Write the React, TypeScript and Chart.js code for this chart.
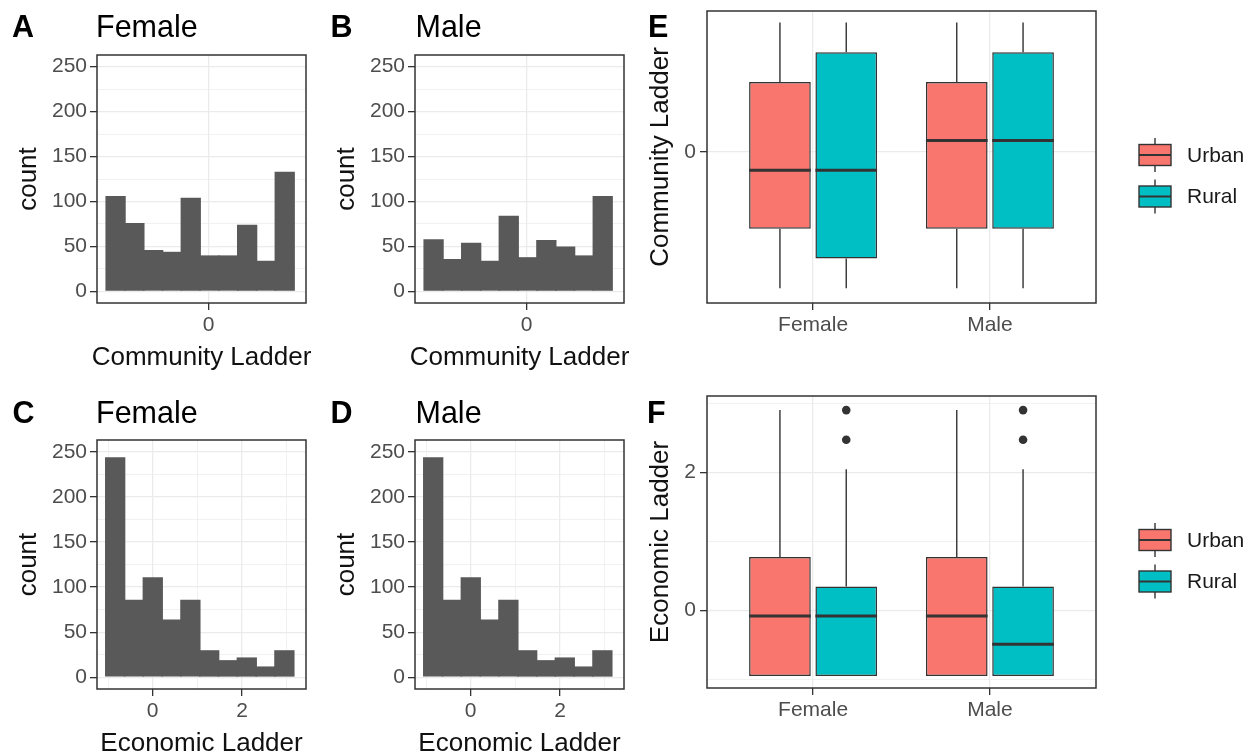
import React, { useEffect, useRef } from 'react';
import { Chart, registerables } from 'chart.js';

Chart.register(...registerables);

const FONT = "'Liberation Sans', Arial, Helvetica, sans-serif";
Chart.defaults.font.family = FONT;

// ---- Histogram data (bin centres on the standardised ladder scales) ----
const communityBins = [-1.767, -1.41, -1.053, -0.696, -0.339, 0.018, 0.375, 0.732, 1.089, 1.446];
const economicBins = [-0.84, -0.419, 0.002, 0.423, 0.844, 1.265, 1.686, 2.107, 2.528, 2.949];

const femaleCommunityCounts = [106, 76, 46, 44, 104, 40, 40, 74, 34, 133];
const maleCommunityCounts = [58, 36, 54, 34, 84, 38, 57, 50, 40, 106];
const femaleEconomicCounts = [244, 86, 111, 64, 86, 30, 19, 22, 12, 30];
const maleEconomicCounts = [244, 86, 111, 64, 86, 30, 19, 22, 12, 30];

const countTicks = [0, 25, 50, 75, 100, 125, 150, 175, 200, 225, 250];
const communityTicks = [0];
const economicTicks = [-1, 0, 1, 2, 3];

// ---- Boxplot data: [min, q1, median, q3, max] per gender ----
const genders = ['Female', 'Male'];
const areas = ['Urban', 'Rural'];
const areaColors = ['#F8766D', '#00BFC4'];

const communityUrban = [
  [-1.65, -0.93, -0.22, 0.85, 1.57],
  [-1.65, -0.93, 0.14, 0.85, 1.57],
];
const communityRural = [
  [-1.65, -1.29, -0.22, 1.21, 1.57],
  [-1.65, -0.93, 0.14, 1.21, 1.57],
];
const communityUrbanOutliers: number[][] = [[], []];
const communityRuralOutliers: number[][] = [[], []];

const economicUrban = [
  [-0.955, -0.955, -0.085, 0.775, 2.91],
  [-0.955, -0.955, -0.085, 0.775, 2.91],
];
const economicRural = [
  [-0.955, -0.955, -0.085, 0.345, 2.05],
  [-0.955, -0.955, -0.495, 0.345, 2.05],
];
const economicUrbanOutliers: number[][] = [[], []];
const economicRuralOutliers = [
  [2.48, 2.91],
  [2.48, 2.91],
];

const communityBoxTicks = [0];
const economicBoxTicks = [-1, 0, 1, 2, 3];

// ---- Styling ----
const TICK_TEXT = '#4d4d4d';
const GRID = '#ebebeb';
const INK = '#333333';
const TICK_SIZE = 21;
const TITLE_SIZE = 26;
const HEAD_SIZE = 30.5;
const DODGE = [-0.1875, 0.1875];

const allMajor = () => true;
const every50 = (v: number) => v % 50 === 0;
const every2 = (v: number) => v % 2 === 0;

function gridFor(isMajor: (v: number) => boolean) {
  return {
    offset: false,
    color: GRID,
    lineWidth: (c: any) => (c.tick && isMajor(c.tick.value) ? 1.3 : 0.7),
    tickColor: (c: any) => (c.tick && isMajor(c.tick.value) ? INK : 'rgba(0,0,0,0)'),
    tickLength: 7,
    tickWidth: 1.3,
    drawTicks: true,
  };
}

function fixTicks(values: number[]) {
  return (scale: any) => {
    scale.ticks = values.map((v) => ({ value: v }));
  };
}

function pinWidth(w: number) {
  return (scale: any) => {
    scale.width = w;
    scale.paddingTop = scale.paddingBottom = scale.paddingLeft = scale.paddingRight = 0;
  };
}

function pinHeight(h: number) {
  return (scale: any) => {
    scale.height = h;
    scale.paddingTop = scale.paddingBottom = scale.paddingLeft = scale.paddingRight = 0;
  };
}

const panelBorder = {
  id: 'panelBorder',
  afterDraw(chart: any) {
    const { ctx, chartArea: a } = chart;
    ctx.save();
    ctx.strokeStyle = INK;
    ctx.lineWidth = 1.5;
    ctx.strokeRect(a.left, a.top, a.right - a.left, a.bottom - a.top);
    ctx.restore();
  },
};

function xTitle(text: string) {
  return {
    id: 'xTitle',
    afterDraw(chart: any) {
      const { ctx, chartArea: a } = chart;
      ctx.save();
      ctx.font = `${TITLE_SIZE}px ${FONT}`;
      ctx.fillStyle = '#111';
      ctx.textAlign = 'center';
      ctx.textBaseline = 'alphabetic';
      ctx.fillText(text, (a.left + a.right) / 2, a.bottom + 62.3);
      ctx.restore();
    },
  };
}

// Whiskers behind the boxes, medians on top of them
const boxParts = {
  id: 'boxParts',
  beforeDatasetsDraw(chart: any) {
    const { ctx } = chart;
    const y = chart.scales.y;
    chart.data.datasets.forEach((ds: any, i: number) => {
      if (ds.type !== 'bar') return;
      const meta = chart.getDatasetMeta(i);
      meta.data.forEach((el: any, j: number) => {
        const s = ds.data[j].stats;
        ctx.save();
        ctx.strokeStyle = INK;
        ctx.lineWidth = 1.4;
        ctx.beginPath();
        ctx.moveTo(el.x, y.getPixelForValue(s[3]));
        ctx.lineTo(el.x, y.getPixelForValue(s[4]));
        ctx.moveTo(el.x, y.getPixelForValue(s[1]));
        ctx.lineTo(el.x, y.getPixelForValue(s[0]));
        ctx.stroke();
        ctx.restore();
      });
    });
  },
  afterDatasetsDraw(chart: any) {
    const { ctx } = chart;
    const y = chart.scales.y;
    chart.data.datasets.forEach((ds: any, i: number) => {
      if (ds.type !== 'bar') return;
      const meta = chart.getDatasetMeta(i);
      meta.data.forEach((el: any, j: number) => {
        const s = ds.data[j].stats;
        const py = y.getPixelForValue(s[2]);
        ctx.save();
        ctx.strokeStyle = INK;
        ctx.lineWidth = 3;
        ctx.beginPath();
        ctx.moveTo(el.x - el.width / 2, py);
        ctx.lineTo(el.x + el.width / 2, py);
        ctx.stroke();
        ctx.restore();
      });
    });
  },
};

const boxLegend = {
  id: 'boxLegend',
  afterDraw(chart: any) {
    const { ctx, chartArea: a } = chart;
    const cy = (a.top + a.bottom) / 2;
    const rows = [cy - 2, cy + 39.5];
    const kx = a.right + 59;
    areas.forEach((name, i) => {
      const ry = rows[i];
      ctx.save();
      ctx.strokeStyle = INK;
      ctx.lineWidth = 1.4;
      ctx.beginPath();
      ctx.moveTo(kx, ry - 17);
      ctx.lineTo(kx, ry + 17);
      ctx.stroke();
      ctx.fillStyle = areaColors[i];
      ctx.fillRect(kx - 16, ry - 10.5, 32, 21);
      ctx.strokeRect(kx - 16, ry - 10.5, 32, 21);
      ctx.lineWidth = 2;
      ctx.beginPath();
      ctx.moveTo(kx - 16, ry);
      ctx.lineTo(kx + 16, ry);
      ctx.stroke();
      ctx.fillStyle = '#1a1a1a';
      ctx.font = `${TICK_SIZE}px ${FONT}`;
      ctx.textAlign = 'left';
      ctx.textBaseline = 'middle';
      ctx.fillText(name, a.right + 91, ry + 1);
      ctx.restore();
    });
  },
};

interface Frame {
  canvasLeft: number;
  canvasTop: number;
  canvasWidth: number;
  canvasHeight: number;
  plotLeft: number;
  plotTop: number;
  plotWidth: number;
  plotHeight: number;
}

interface HistSpec extends Frame {
  bins: number[];
  counts: number[];
  xRange: [number, number];
  xTicks: number[];
  xMajor: (v: number) => boolean;
  xLabel: string;
}

function histogramConfig(p: HistSpec): any {
  return {
    type: 'bar',
    data: {
      datasets: [
        {
          data: p.bins.map((b, i) => ({ x: b, y: p.counts[i] })),
          backgroundColor: '#595959',
          borderWidth: 0,
          grouped: false,
          // adjacent bins overlap slightly so no seams show between them
          barPercentage: 1.08,
          categoryPercentage: 1,
        },
      ],
    },
    options: {
      responsive: false,
      animation: false,
      devicePixelRatio: 1,
      layout: {
        padding: {
          left: 0,
          top: p.plotTop,
          right: p.canvasWidth - p.plotLeft - p.plotWidth,
          bottom: 0,
        },
      },
      plugins: { legend: { display: false }, tooltip: { enabled: false } },
      scales: {
        x: {
          type: 'linear',
          bounds: 'data',
          offset: false,
          min: p.xRange[0],
          max: p.xRange[1],
          afterBuildTicks: fixTicks(p.xTicks),
          afterFit: pinHeight(p.canvasHeight - p.plotTop - p.plotHeight),
          border: { display: false },
          grid: gridFor(p.xMajor),
          ticks: {
            autoSkip: false,
            maxRotation: 0,
            padding: 3,
            color: TICK_TEXT,
            font: { size: TICK_SIZE },
            callback: (v: number) => (p.xMajor(v) ? String(v) : ''),
          },
        },
        y: {
          type: 'linear',
          bounds: 'data',
          min: -13,
          max: 263,
          afterBuildTicks: fixTicks(countTicks),
          afterFit: pinWidth(p.plotLeft),
          border: { display: false },
          grid: gridFor(every50),
          ticks: {
            autoSkip: false,
            padding: 3,
            color: TICK_TEXT,
            font: { size: TICK_SIZE },
            callback: (v: number) => (every50(v) ? String(v) : ''),
          },
          title: {
            display: true,
            text: 'count',
            color: '#111',
            font: { size: TITLE_SIZE, lineHeight: 1 },
            padding: { top: 16, bottom: 0 },
          },
        },
      },
    },
    plugins: [panelBorder, xTitle(p.xLabel)],
  };
}

interface BoxSpec extends Frame {
  urban: number[][];
  rural: number[][];
  urbanOutliers: number[][];
  ruralOutliers: number[][];
  yRange: [number, number];
  yTicks: number[];
  yMajor: (v: number) => boolean;
  yLabel: string;
}

function boxConfig(p: BoxSpec): any {
  const groups = [p.urban, p.rural];
  const outlierGroups = [p.urbanOutliers, p.ruralOutliers];
  const boxes = groups.map((stats, a) => ({
    type: 'bar',
    label: areas[a],
    data: stats.map((s, g) => ({ x: g + 1 + DODGE[a], y: [s[1], s[3]], stats: s })),
    backgroundColor: areaColors[a],
    borderColor: INK,
    borderWidth: 1.5,
    borderSkipped: false,
    grouped: false,
    barPercentage: 0.93,
    categoryPercentage: 1,
    order: 2,
  }));
  const points = outlierGroups.map((sets, a) => ({
    type: 'scatter',
    label: areas[a] + ' outliers',
    data: sets.flatMap((vals, g) => vals.map((v) => ({ x: g + 1 + DODGE[a], y: v }))),
    backgroundColor: INK,
    borderWidth: 0,
    pointRadius: 4.3,
    showLine: false,
    order: 1,
  }));
  return {
    type: 'bar',
    data: { datasets: [...boxes, ...points] },
    options: {
      responsive: false,
      animation: false,
      devicePixelRatio: 1,
      layout: {
        padding: {
          left: 0,
          top: p.plotTop,
          right: p.canvasWidth - p.plotLeft - p.plotWidth,
          bottom: 0,
        },
      },
      plugins: { legend: { display: false }, tooltip: { enabled: false } },
      scales: {
        x: {
          type: 'linear',
          bounds: 'data',
          offset: false,
          min: 0.4,
          max: genders.length + 0.6,
          afterBuildTicks: fixTicks(genders.map((_, i) => i + 1)),
          afterFit: pinHeight(p.canvasHeight - p.plotTop - p.plotHeight),
          border: { display: false },
          grid: gridFor(allMajor),
          ticks: {
            autoSkip: false,
            maxRotation: 0,
            padding: 3,
            color: TICK_TEXT,
            font: { size: TICK_SIZE },
            callback: (v: number) => genders[Math.round(v) - 1] ?? '',
          },
        },
        y: {
          type: 'linear',
          bounds: 'data',
          min: p.yRange[0],
          max: p.yRange[1],
          afterBuildTicks: fixTicks(p.yTicks),
          afterFit: pinWidth(p.plotLeft),
          border: { display: false },
          grid: gridFor(p.yMajor),
          ticks: {
            autoSkip: false,
            padding: 4,
            color: TICK_TEXT,
            font: { size: TICK_SIZE },
            callback: (v: number) => (p.yMajor(v) ? String(v) : ''),
          },
          title: {
            display: true,
            text: p.yLabel,
            color: '#111',
            font: { size: TITLE_SIZE, lineHeight: 1 },
            padding: { top: 18, bottom: 0 },
          },
        },
      },
    },
    plugins: [boxParts, panelBorder, boxLegend],
  };
}

const histFrameTop = { canvasTop: 40, canvasHeight: 330, plotTop: 15, plotHeight: 248 };
const histFrameBottom = { canvasTop: 425, canvasHeight: 330, plotTop: 15, plotHeight: 249 };

const histA: HistSpec = {
  ...histFrameTop,
  canvasLeft: 0, canvasWidth: 320, plotLeft: 97, plotWidth: 209,
  bins: communityBins, counts: femaleCommunityCounts, xRange: [-2.12, 1.85],
  xTicks: communityTicks, xMajor: allMajor, xLabel: 'Community Ladder',
};
const histB: HistSpec = {
  ...histFrameTop,
  canvasLeft: 318, canvasWidth: 312, plotLeft: 97, plotWidth: 209,
  bins: communityBins, counts: maleCommunityCounts, xRange: [-2.12, 1.85],
  xTicks: communityTicks, xMajor: allMajor, xLabel: 'Community Ladder',
};
const histC: HistSpec = {
  ...histFrameBottom,
  canvasLeft: 0, canvasWidth: 320, plotLeft: 97, plotWidth: 209,
  bins: economicBins, counts: femaleEconomicCounts, xRange: [-1.247, 3.433],
  xTicks: economicTicks, xMajor: every2, xLabel: 'Economic Ladder',
};
const histD: HistSpec = {
  ...histFrameBottom,
  canvasLeft: 318, canvasWidth: 312, plotLeft: 97, plotWidth: 209,
  bins: economicBins, counts: maleEconomicCounts, xRange: [-1.247, 3.433],
  xTicks: economicTicks, xMajor: every2, xLabel: 'Economic Ladder',
};

const boxE: BoxSpec = {
  canvasLeft: 630, canvasTop: 0, canvasWidth: 622, canvasHeight: 380,
  plotLeft: 77, plotTop: 11, plotWidth: 389, plotHeight: 292,
  urban: communityUrban, rural: communityRural,
  urbanOutliers: communityUrbanOutliers, ruralOutliers: communityRuralOutliers,
  yRange: [-1.83, 1.71], yTicks: communityBoxTicks, yMajor: allMajor, yLabel: 'Community Ladder',
};
const boxF: BoxSpec = {
  canvasLeft: 630, canvasTop: 385, canvasWidth: 622, canvasHeight: 370,
  plotLeft: 77, plotTop: 11, plotWidth: 389, plotHeight: 292,
  urban: economicUrban, rural: economicRural,
  urbanOutliers: economicUrbanOutliers, ruralOutliers: economicRuralOutliers,
  yRange: [-1.13, 3.115], yTicks: economicBoxTicks, yMajor: every2, yLabel: 'Economic Ladder',
};

function ChartCanvas({ frame, make }: { frame: Frame; make: () => any }) {
  const ref = useRef<HTMLCanvasElement>(null);
  useEffect(() => {
    const chart = new Chart(ref.current as HTMLCanvasElement, make());
    return () => chart.destroy();
  }, []);
  return (
    <canvas
      ref={ref}
      width={frame.canvasWidth}
      height={frame.canvasHeight}
      style={{
        position: 'absolute',
        left: frame.canvasLeft,
        top: frame.canvasTop,
        width: frame.canvasWidth,
        height: frame.canvasHeight,
      }}
    />
  );
}

const headings = [
  { tag: 'A', tagLeft: 12, title: 'Female', titleLeft: 96, top: 11 },
  { tag: 'B', tagLeft: 330.5, title: 'Male', titleLeft: 415.5, top: 11 },
  { tag: 'C', tagLeft: 12.5, title: 'Female', titleLeft: 96, top: 397 },
  { tag: 'D', tagLeft: 330.5, title: 'Male', titleLeft: 415.5, top: 397 },
  { tag: 'E', tagLeft: 648, title: '', titleLeft: 0, top: 11 },
  { tag: 'F', tagLeft: 647, title: '', titleLeft: 0, top: 397 },
];

export default function App() {
  const headStyle = {
    position: 'absolute' as const,
    fontSize: HEAD_SIZE,
    lineHeight: `${HEAD_SIZE}px`,
    color: '#000',
    whiteSpace: 'nowrap' as const,
  };
  return (
    <div
      style={{
        position: 'absolute',
        left: 0,
        top: 0,
        width: 1252,
        height: 755,
        overflow: 'hidden',
        background: '#ffffff',
        fontFamily: FONT,
      }}
    >
      <ChartCanvas frame={histA} make={() => histogramConfig(histA)} />
      <ChartCanvas frame={histB} make={() => histogramConfig(histB)} />
      <ChartCanvas frame={histC} make={() => histogramConfig(histC)} />
      <ChartCanvas frame={histD} make={() => histogramConfig(histD)} />
      <ChartCanvas frame={boxE} make={() => boxConfig(boxE)} />
      <ChartCanvas frame={boxF} make={() => boxConfig(boxF)} />
      {headings.map((h) => (
        <React.Fragment key={h.tag}>
          <div style={{ ...headStyle, left: h.tagLeft, top: h.top, fontWeight: 700 }}>{h.tag}</div>
          {h.title ? <div style={{ ...headStyle, left: h.titleLeft, top: h.top }}>{h.title}</div> : null}
        </React.Fragment>
      ))}
    </div>
  );
}
